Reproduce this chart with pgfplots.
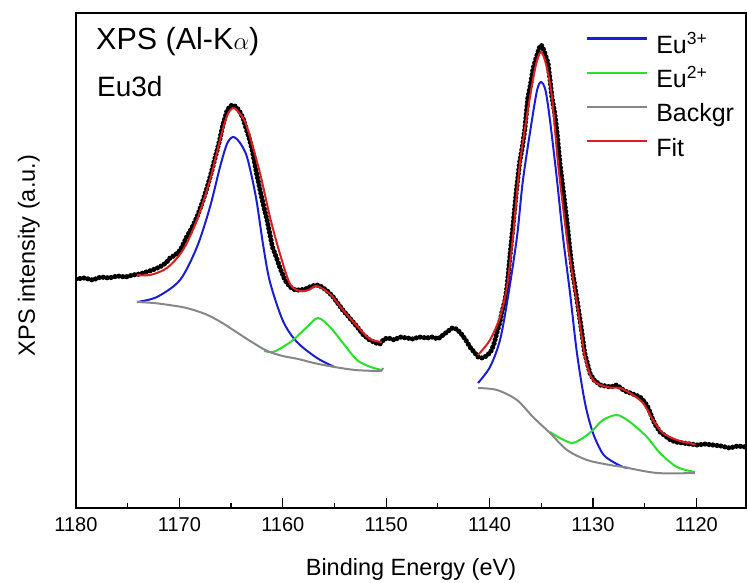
\documentclass[border=0pt]{standalone}
\usepackage{fontspec}
\setmainfont{Liberation Sans}
\usepackage{pgfplots}
\pgfplotsset{compat=1.18}

\definecolor{cblue}{RGB}{25,30,210}
\definecolor{cgreen}{RGB}{40,225,40}
\definecolor{cgray}{RGB}{135,135,135}
\definecolor{cred}{RGB}{220,30,30}

\begin{document}
\begin{tikzpicture}
\begin{axis}[
    scale only axis, width=670pt, height=495pt,
    x dir=reverse, xmin=1115.2, xmax=1180, ymin=0, ymax=495,
    xtick={1120,1130,...,1180}, minor x tick num=1,
    ytick=\empty, xtick pos=lower, tick align=inside,
    major tick length=10pt, minor tick length=5pt,
    every tick/.style={line width=1.2pt, black},
    axis line style={line width=1.5pt},
    /pgf/number format/assume math mode=true,
    /pgf/number format/set thousands separator={},
    xticklabel style={font=\fontsize{20}{24}\selectfont, yshift=-6pt},
    xlabel={Binding Energy (eV)}, ylabel={XPS intensity (a.u.)},
    label style={font=\fontsize{23.5}{28}\selectfont},
    x label style={at={(axis description cs:0.5,-0.1354)}, anchor=base},
    y label style={at={(axis description cs:-0.0612,0.51)}, anchor=base, rotate=0},
    legend style={at={(rel axis cs:0.7565,0.963)}, anchor=north west, draw=none, fill=none,
        font=\fontsize{25}{30}\selectfont, row sep=8.2pt, column sep=8pt,
        nodes={inner sep=0pt, text height=20pt, text depth=6pt}},
    legend cell align=left,
    legend image code/.code={\draw[#1, line width=2.2pt] (0pt,8pt) -- (60pt,8pt);},
  ]
  % measured spectrum
  \addplot[black, line width=5.2pt, line cap=round, dash pattern=on 0pt off 4pt, forget plot] coordinates {
    (1180.0,229) (1179.2,230) (1178.4,228) (1177.6,231) (1176.8,230) (1176.0,232)
    (1175.2,231) (1174.5,233) (1173.8,234) (1173.2,236) (1172.6,238) (1171.9,241)
    (1171.3,245) (1170.9,250) (1170.4,253) (1169.9,258) (1169.3,271) (1168.8,280)
    (1168.3,291) (1167.8,305) (1167.3,321) (1166.9,336) (1166.5,352) (1166.1,368)
    (1165.8,383) (1165.4,397) (1165.1,402) (1164.8,403) (1164.5,401) (1164.2,397)
    (1163.85,390) (1163.5,378) (1163.2,368) (1162.9,355) (1162.6,338) (1162.3,323)
    (1161.9,304) (1161.5,287) (1161.0,261) (1160.6,250) (1160.3,241) (1159.8,228)
    (1159.3,221) (1158.8,218) (1158.3,218) (1157.8,219) (1157.2,222) (1156.7,223)
    (1156.2,221) (1155.7,217) (1155.2,212) (1154.7,205) (1154.2,198) (1153.7,192)
    (1153.2,186) (1152.8,181) (1152.2,173) (1151.6,168) (1151.0,165) (1150.6,164)
    (1150.2,169) (1149.8,170) (1149.2,168) (1148.7,171) (1148.0,170) (1147.4,169)
    (1146.8,171) (1146.1,170) (1145.5,171) (1145.0,169) (1144.5,173) (1144.0,177)
    (1143.6,180) (1143.2,179) (1142.8,175) (1142.3,168) (1141.9,161) (1141.5,156)
    (1141.1,151) (1140.7,150) (1140.3,152) (1139.9,156) (1139.6,163) (1139.3,175)
    (1139.0,186) (1138.8,196) (1138.5,208) (1138.3,222) (1138.0,255) (1137.7,286)
    (1137.4,318) (1137.1,345) (1136.8,363) (1136.6,378) (1136.3,410) (1136.0,426)
    (1135.8,439) (1135.5,450) (1135.2,460) (1135.0,463) (1134.8,459) (1134.6,453)
    (1134.35,445) (1134.15,428) (1133.97,411) (1133.7,395) (1133.5,378) (1133.2,345)
    (1133.0,328) (1132.8,311) (1132.5,285) (1132.25,260) (1132.0,238) (1131.6,212)
    (1131.25,188) (1131.0,170) (1130.8,155) (1130.5,143) (1130.3,135) (1129.9,128)
    (1129.3,123) (1128.8,122) (1128.3,121) (1127.7,123) (1127.2,119) (1126.9,117)
    (1126.4,115) (1125.9,113) (1125.45,111) (1125.0,106) (1124.7,101) (1124.45,95)
    (1124.2,88) (1123.9,82) (1123.5,76) (1123.0,72) (1122.5,68) (1122.0,66)
    (1121.3,65) (1120.6,64) (1119.9,63) (1119.2,64) (1118.4,63) (1117.6,62)
    (1116.8,60) (1116.0,62) (1115.2,61)
  };
  % Eu3+ components
  \addplot[cblue, line width=2pt, smooth, tension=0.5] coordinates {
    (1174.10,206) (1172.17,211) (1169.94,228) (1168.30,261) (1167.04,301)
    (1166.07,341) (1165.4,364) (1164.82,371) (1164.2,366) (1163.46,351) (1162.6,311)
    (1161.9,263) (1161.24,226) (1159.98,187) (1158.63,166) (1156.69,150) (1155.0,141)
  };
  \addlegendentry{Eu\textsuperscript{3+}}
  \addplot[cblue, line width=2pt, smooth, tension=0.5, forget plot] coordinates {
    (1141.12,125) (1139.96,141) (1138.99,168) (1138.22,211) (1137.35,271)
    (1136.77,328) (1135.90,388) (1135.4,418) (1135.03,426) (1134.6,418) (1134.16,388)
    (1133.48,328) (1132.90,271) (1132.22,215) (1131.55,155) (1130.77,105)
    (1130.0,75) (1129.1,55) (1128.36,48) (1127.1,41) (1126.5,40)
  };
  % Eu2+ components
  \addplot[cgreen, line width=2pt, smooth, tension=0.5] coordinates {
    (1161.8,157) (1160.95,156) (1160.0,161) (1159.0,168) (1157.66,181) (1156.6,190)
    (1155.44,181) (1154.18,165) (1152.82,148) (1151.5,141) (1150.4,138)
  };
  \addlegendentry{Eu\textsuperscript{2+}}
  \addplot[cgreen, line width=2pt, smooth, tension=0.5, forget plot] coordinates {
    (1134.16,76) (1133.19,70) (1132.03,65) (1130.97,70) (1130.0,78) (1129.03,88)
    (1127.68,93) (1126.42,86) (1124.78,71) (1123.52,55) (1121.88,41) (1120.14,36)
  };
  % background
  \addplot[cgray, line width=2pt, smooth, tension=0.5] coordinates {
    (1174.1,206) (1172.5,205) (1171.0,203) (1169.3,200) (1167.5,194) (1166.0,186)
    (1164.5,176) (1163.0,166) (1161.5,157) (1160.0,152) (1158.5,149) (1157.0,145)
    (1155.0,141) (1153.0,138) (1151.0,137) (1150.5,137) (1150.3,140)
  };
  \addlegendentry{Backgr}
  \addplot[cgray, line width=2pt, smooth, tension=0.5, forget plot] coordinates {
    (1141.12,120) (1139.28,118) (1137.35,108) (1135.80,91) (1134.16,75)
    (1132.51,58) (1130.58,48) (1128.36,43) (1127.10,41) (1123.81,35) (1120.14,35)
  };
  % fit envelope
  \addplot[cred, line width=2pt, smooth, tension=0.5] coordinates {
    (1174.10,233) (1172.84,233) (1171.20,240) (1169.65,258) (1168.30,288)
    (1167.04,328) (1166.07,368) (1165.4,392) (1164.82,400) (1164.2,395) (1163.46,381)
    (1162.21,335) (1161.24,291) (1160.3,255) (1159.3,224) (1158.34,217)
    (1157.5,218) (1156.69,222) (1155.44,214) (1154.18,198) (1152.82,182)
    (1151.57,169) (1150.41,166)
  };
  \addlegendentry{Fit}
  \addplot[cred, line width=2pt, smooth, tension=0.5, forget plot] coordinates {
    (1141.12,153) (1139.96,168) (1138.99,191) (1138.32,221) (1137.74,271)
    (1137.06,345) (1136.09,411) (1135.5,444) (1135.03,456) (1134.55,444) (1133.97,411)
    (1133.38,345) (1132.71,285) (1132.42,262) (1131.55,205) (1130.77,151)
    (1130.0,128) (1128.65,121) (1127.4,120) (1126.42,115) (1125.16,105)
    (1124.20,88) (1123.23,75) (1121.88,68) (1120.33,64) (1120.1,64)
  };
  \node[anchor=base west, inner sep=0pt, font=\fontsize{30.5}{34}\selectfont]
    at (rel axis cs:0.0299,0.9253) {XPS (Al-K$\alpha$)};
  \node[anchor=base west, inner sep=0pt, font=\fontsize{28}{34}\selectfont]
    at (rel axis cs:0.0313,0.8303) {Eu3d};
\end{axis}
\pgfresetboundingbox
\path[use as bounding box] ([shift={(-76pt,-75pt)}]current axis.south west)
  rectangle ([shift={(1pt,13pt)}]current axis.north east);
\end{tikzpicture}
\end{document}
